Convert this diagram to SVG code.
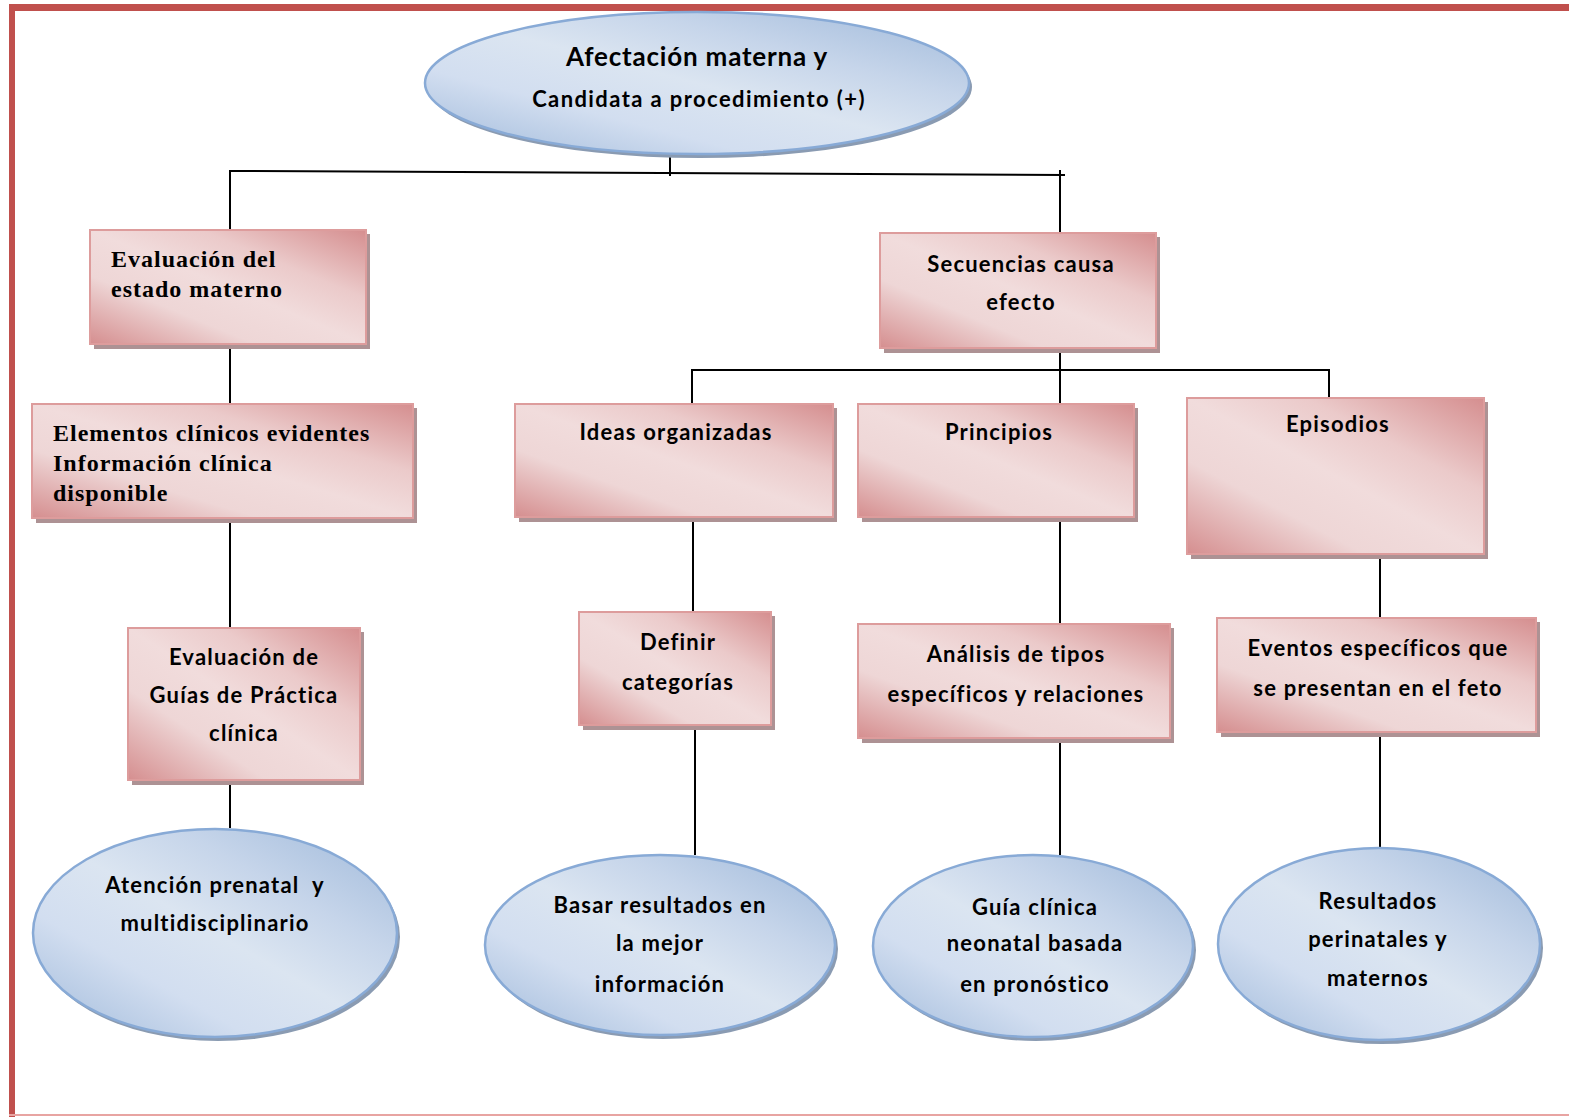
<svg xmlns="http://www.w3.org/2000/svg" width="1569" height="1117" viewBox="0 0 1569 1117">
  <defs>
    <linearGradient id="pinkFill" x1="1" y1="0" x2="0" y2="1">
      <stop offset="0" stop-color="#d58e8f"/>
      <stop offset="0.3" stop-color="#ebcaca"/>
      <stop offset="0.5" stop-color="#f1dcdc"/>
      <stop offset="0.7" stop-color="#eed6d6"/>
      <stop offset="1" stop-color="#d58e8f"/>
    </linearGradient>
    <linearGradient id="blueFill" x1="1" y1="0" x2="0" y2="1">
      <stop offset="0" stop-color="#9fb9da"/>
      <stop offset="0.3" stop-color="#c6d5ea"/>
      <stop offset="0.5" stop-color="#dbe5f1"/>
      <stop offset="0.7" stop-color="#d2def0"/>
      <stop offset="1" stop-color="#9fb9da"/>
    </linearGradient>
    <style>
      .box { fill: url(#pinkFill); stroke: #dd9c9c; stroke-width: 2; }
      .boxShadow { fill: #ad9294; }
      .oval { fill: url(#blueFill); stroke: #88aad6; stroke-width: 2.5; }
      .ovalShadow { fill: #8a9bb2; }
      .link { fill: none; stroke: #000; stroke-width: 2; }
      .sans { font-family: Lato, "Open Sans", "Noto Sans", sans-serif; font-weight: bold; fill: #000; text-anchor: middle; font-size: 22px; letter-spacing: 1.2px; }
      .serif { font-family: "Liberation Serif", "DejaVu Serif", serif; font-weight: bold; fill: #000; font-size: 24px; letter-spacing: 1px; }
      .title { font-size: 26px; letter-spacing: 0.8px; }
      .subtitle { letter-spacing: 1.4px; }
    </style>
  </defs>

  <rect width="1569" height="1117" fill="#ffffff"/>

  <!-- page frame -->
  <g id="frame">
    <rect x="9" y="4" width="1560" height="7" fill="#c0504d"/>
    <rect x="9" y="4" width="6" height="1113" fill="#c0504d"/>
    <rect x="9" y="1114" width="1560" height="2" fill="#e8a4a2"/>
  </g>

  <!-- connectors -->
  <g id="connectors">
    <path class="link" d="M670 155 V176"/>
    <path class="link" d="M230 230 V171 L1065 175"/>
    <path class="link" d="M1060 170 V235"/>
    <path class="link" d="M230 346 V404"/>
    <path class="link" d="M230 520 V628"/>
    <path class="link" d="M230 782 V828"/>
    <path class="link" d="M1060 350 V404"/>
    <path class="link" d="M692 404 V370 H1329 V398"/>
    <path class="link" d="M693 519 V612"/>
    <path class="link" d="M695 727 V855"/>
    <path class="link" d="M1060 519 V624"/>
    <path class="link" d="M1060 740 V855"/>
    <path class="link" d="M1380 556 V618"/>
    <path class="link" d="M1380 734 V848"/>
  </g>

  <!-- root -->
  <g id="root">
    <ellipse class="ovalShadow" cx="700" cy="87" rx="272" ry="71"/>
    <ellipse class="oval" cx="697" cy="83" rx="272" ry="71"/>
    <text class="sans title" x="697" y="66">Afectación materna y</text>
    <text class="sans subtitle" x="699" y="107">Candidata a procedimiento (+)</text>
  </g>

  <!-- left branch -->
  <g id="evaluacion-estado">
    <rect class="boxShadow" x="94" y="234" width="276" height="115"/>
    <rect class="box" x="90" y="230" width="276" height="114"/>
    <text class="serif" x="111" y="267">Evaluación del</text>
    <text class="serif" x="111" y="297">estado materno</text>
  </g>

  <g id="elementos-clinicos">
    <rect class="boxShadow" x="36" y="408" width="381" height="115"/>
    <rect class="box" x="32" y="404" width="381" height="114"/>
    <text class="serif" x="53" y="441">Elementos clínicos evidentes</text>
    <text class="serif" x="53" y="471">Información clínica</text>
    <text class="serif" x="53" y="501">disponible</text>
  </g>

  <g id="guias-practica">
    <rect class="boxShadow" x="132" y="632" width="232" height="153"/>
    <rect class="box" x="128" y="628" width="232" height="152"/>
    <text class="sans" x="244" y="665">Evaluación de</text>
    <text class="sans" x="244" y="703">Guías de Práctica</text>
    <text class="sans" x="244" y="741">clínica</text>
  </g>

  <g id="atencion-prenatal">
    <ellipse class="ovalShadow" cx="218" cy="937" rx="182" ry="104"/>
    <ellipse class="oval" cx="215" cy="933" rx="182" ry="104"/>
    <text class="sans" x="215" y="893" style="white-space:pre">Atención prenatal  y</text>
    <text class="sans" x="215" y="931">multidisciplinario</text>
  </g>

  <!-- right branch -->
  <g id="secuencias">
    <rect class="boxShadow" x="884" y="237" width="276" height="116"/>
    <rect class="box" x="880" y="233" width="276" height="115"/>
    <text class="sans" x="1021" y="272">Secuencias causa</text>
    <text class="sans" x="1021" y="310">efecto</text>
  </g>

  <g id="ideas-organizadas">
    <rect class="boxShadow" x="519" y="408" width="318" height="114"/>
    <rect class="box" x="515" y="404" width="318" height="113"/>
    <text class="sans" x="676" y="440">Ideas organizadas</text>
  </g>

  <g id="principios">
    <rect class="boxShadow" x="862" y="408" width="276" height="114"/>
    <rect class="box" x="858" y="404" width="276" height="113"/>
    <text class="sans" x="999" y="440">Principios</text>
  </g>

  <g id="episodios">
    <rect class="boxShadow" x="1191" y="402" width="297" height="157"/>
    <rect class="box" x="1187" y="398" width="297" height="156"/>
    <text class="sans" x="1338" y="432">Episodios</text>
  </g>

  <g id="definir-categorias">
    <rect class="boxShadow" x="583" y="616" width="192" height="114"/>
    <rect class="box" x="579" y="612" width="192" height="113"/>
    <text class="sans" x="678" y="650">Definir</text>
    <text class="sans" x="678" y="690">categorías</text>
  </g>

  <g id="analisis-tipos">
    <rect class="boxShadow" x="862" y="628" width="312" height="115"/>
    <rect class="box" x="858" y="624" width="312" height="114"/>
    <text class="sans" x="1016" y="662">Análisis de tipos</text>
    <text class="sans" x="1016" y="702">específicos y relaciones</text>
  </g>

  <g id="eventos-especificos">
    <rect class="boxShadow" x="1221" y="622" width="319" height="115"/>
    <rect class="box" x="1217" y="618" width="319" height="114"/>
    <text class="sans" x="1378" y="656">Eventos específicos que</text>
    <text class="sans" x="1378" y="696">se presentan en el feto</text>
  </g>

  <g id="basar-resultados">
    <ellipse class="ovalShadow" cx="663" cy="949" rx="175" ry="90"/>
    <ellipse class="oval" cx="660" cy="945" rx="175" ry="90"/>
    <text class="sans" x="660" y="913">Basar resultados en</text>
    <text class="sans" x="660" y="951">la mejor</text>
    <text class="sans" x="660" y="992">información</text>
  </g>

  <g id="guia-neonatal">
    <ellipse class="ovalShadow" cx="1036" cy="950" rx="160" ry="91"/>
    <ellipse class="oval" cx="1033" cy="946" rx="160" ry="91"/>
    <text class="sans" x="1035" y="915">Guía clínica</text>
    <text class="sans" x="1035" y="951">neonatal basada</text>
    <text class="sans" x="1035" y="992">en pronóstico</text>
  </g>

  <g id="resultados-perinatales">
    <ellipse class="ovalShadow" cx="1382" cy="948" rx="161" ry="96"/>
    <ellipse class="oval" cx="1379" cy="944" rx="161" ry="96"/>
    <text class="sans" x="1378" y="909">Resultados</text>
    <text class="sans" x="1378" y="947">perinatales y</text>
    <text class="sans" x="1378" y="986">maternos</text>
  </g>
</svg>
